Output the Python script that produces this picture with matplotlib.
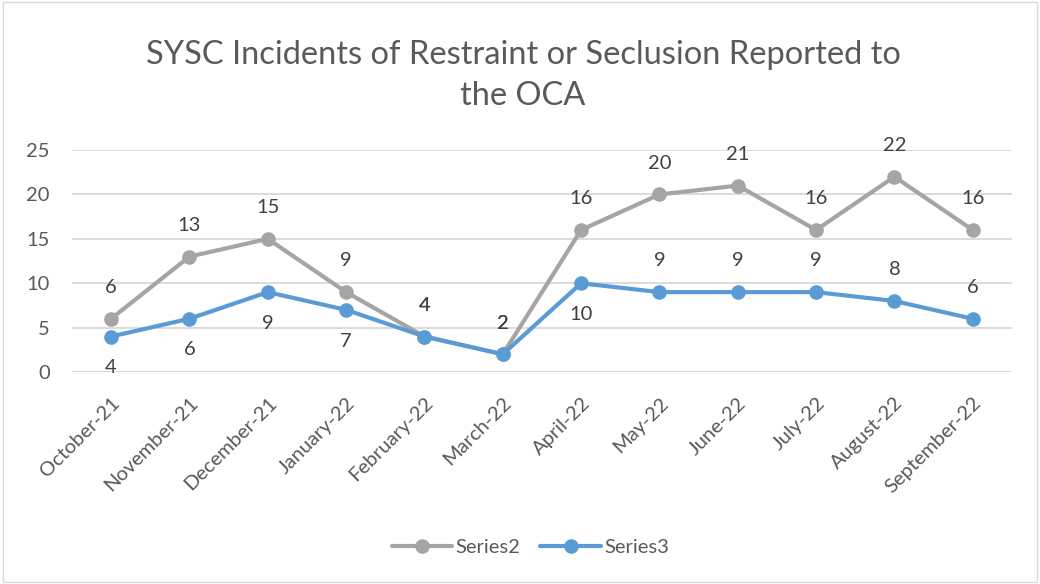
import matplotlib

matplotlib.use("Agg")
import matplotlib.pyplot as plt
from matplotlib.patches import Rectangle

MONTHS = [
    "October-21", "November-21", "December-21", "January-22", "February-22",
    "March-22", "April-22", "May-22", "June-22", "July-22", "August-22",
    "September-22",
]
SERIES2 = [6, 13, 15, 9, 4, 2, 16, 20, 21, 16, 22, 16]
SERIES3 = [4, 6, 9, 7, 4, 2, 10, 9, 9, 9, 8, 6]

# label placement per point: +1 above, -1 below
SERIES2_SIDE = [1] * 12
SERIES3_SIDE = [-1, -1, -1, -1, 1, 1, -1, 1, 1, 1, 1, 1]

GRAY = "#A5A5A5"
BLUE = "#5B9BD5"
TEXT = "#595959"
GRID = "#D9D9D9"

plt.rcParams.update({"font.family": ["Lato", "DejaVu Sans"]})

fig = plt.figure(figsize=(10.4, 5.84), dpi=100)
ax = fig.add_axes([0.0692, 0.363, 0.9038, 0.380])

x = list(range(len(MONTHS)))
for vals, color, name, sides in [
    (SERIES2, GRAY, "Series2", SERIES2_SIDE),
    (SERIES3, BLUE, "Series3", SERIES3_SIDE),
]:
    ax.plot(x, vals, color=color, lw=3, marker="o", ms=9.5, label=name,
            solid_capstyle="round", zorder=3)
    for xi, v, s in zip(x, vals, sides):
        ax.annotate(str(v), (xi, v), xytext=(0, 22.5 * s), textcoords="offset points",
                    ha="center", va="center", fontsize=14.5, color="#404040")

ax.set_xlim(-0.5, len(MONTHS) - 0.5)
ax.set_ylim(0, 25)
ax.set_yticks([0, 5, 10, 15, 20, 25])
ax.grid(axis="y", color=GRID, lw=1.3, zorder=0)
ax.set_axisbelow(True)
for sp in ax.spines.values():
    sp.set_visible(False)
ax.tick_params(length=0, labelsize=14.5, colors=TEXT)
ax.tick_params(axis="y", pad=16)
ax.set_xticks(x)
ax.set_xticklabels(MONTHS, rotation=45, ha="right", rotation_mode="anchor")
ax.tick_params(axis="x", pad=16)

fig.text(0.503, 0.871, "SYSC Incidents of Restraint or Seclusion Reported to\nthe OCA",
         ha="center", va="center", fontsize=23.5, color=TEXT, linespacing=1.45)

leg = fig.legend(loc="center", bbox_to_anchor=(0.51, 0.062), ncols=2, frameon=False,
                 fontsize=14.5, handlelength=3.0, columnspacing=1.0, handletextpad=0.15)
for t in leg.get_texts():
    t.set_color(TEXT)

fig.patches.append(Rectangle((0.003, 0.004), 0.994, 0.992, transform=fig.transFigure,
                             fill=False, edgecolor="#D9D9D9", lw=1))

fig.savefig("out.png", dpi=100, facecolor="white")
